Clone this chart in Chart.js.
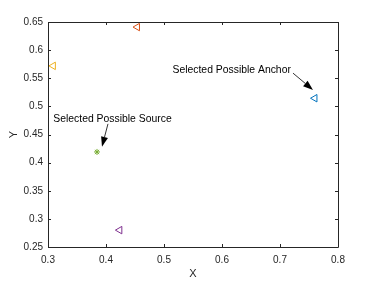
<!DOCTYPE html>
<html>
<head>
<meta charset="utf-8">
<script src="https://cdn.jsdelivr.net/npm/chart.js@4/dist/chart.umd.min.js"></script>
<style>
html,body{margin:0;padding:0;background:#fff;}
#wrap{width:374px;height:281px;position:relative;}
</style>
</head>
<body>
<div id="wrap"><canvas id="c" width="374" height="281"></canvas></div>
<script>
// ---- data ----
const seriesNames = ['Orange', 'Yellow', 'Purple', 'Blue', 'Source'];
const seriesX = [0.454, 0.309, 0.4236, 0.7600, 0.3845];
const seriesY = [0.641, 0.572, 0.280, 0.5145, 0.419];
const seriesColors = ['#D95319', '#EDB120', '#7E2F8E', '#0072BD', '#77AC30'];
const seriesMarkers = ['triangle', 'triangle', 'triangle', 'triangle', 'star'];

const xTicks = [0.3, 0.4, 0.5, 0.6, 0.7, 0.8];
const xTickLabels = ['0.3', '0.4', '0.5', '0.6', '0.7', '0.8'];
const yTicks = [0.25, 0.3, 0.35, 0.4, 0.45, 0.5, 0.55, 0.6, 0.65];
const yTickLabels = ['0.25', '0.3', '0.35', '0.4', '0.45', '0.5', '0.55', '0.6', '0.65'];

const annTexts = ['Selected Possible Source', 'Selected Possible Anchor'];
const annTextX = [0.4112, 0.6167];
const annTextY = [0.4771, 0.5637];
const arrowFromX = [0.4034, 0.7224];
const arrowFromY = [0.4689, 0.5591];
const arrowToX = [0.3931, 0.7569];
const arrowToY = [0.4283, 0.5293];

const AX = '#262626';
const FONT = "'Liberation Sans', Arial, Helvetica, sans-serif";

const datasets = seriesNames.map((n, i) => ({
  label: n,
  data: [{x: seriesX[i], y: seriesY[i]}],
  pointStyle: seriesMarkers[i],
  rotation: seriesMarkers[i] === 'triangle' ? -90 : 0,
  pointRadius: seriesMarkers[i] === 'triangle' ? 4.3 : 3,
  borderColor: seriesColors[i],
  backgroundColor: 'rgba(0,0,0,0)',
  pointBorderWidth: 1,
  borderWidth: 1
}));

const boxPlugin = {
  id: 'boxTicks',
  afterDatasetsDraw(chart) {
    const ctx = chart.ctx;
    const a = chart.chartArea;
    const xs = chart.scales.x, ys = chart.scales.y;
    ctx.save();
    ctx.strokeStyle = AX;
    ctx.lineWidth = 1;
    ctx.beginPath();
    ctx.rect(Math.round(a.left) + 0.5, Math.round(a.top) + 0.5, Math.round(a.right - a.left), Math.round(a.bottom - a.top));
    ctx.stroke();
    const tl = 3;
    ctx.beginPath();
    xTicks.forEach(v => {
      const px = Math.round(xs.getPixelForValue(v)) + 0.5;
      ctx.moveTo(px, a.bottom); ctx.lineTo(px, a.bottom - tl);
      ctx.moveTo(px, a.top); ctx.lineTo(px, a.top + tl);
    });
    yTicks.forEach(v => {
      const py = Math.round(ys.getPixelForValue(v)) + 0.5;
      ctx.moveTo(a.left, py); ctx.lineTo(a.left + tl, py);
      ctx.moveTo(a.right, py); ctx.lineTo(a.right - tl, py);
    });
    ctx.stroke();

    // annotations
    ctx.font = '10.4px ' + FONT;
    ctx.textAlign = 'center';
    ctx.textBaseline = 'middle';
    annTexts.forEach((t, i) => {
      ctx.fillStyle = '#000';
      ctx.fillText(t, xs.getPixelForValue(annTextX[i]), ys.getPixelForValue(annTextY[i]));
      const x1 = xs.getPixelForValue(arrowFromX[i]), y1 = ys.getPixelForValue(arrowFromY[i]);
      const x2 = xs.getPixelForValue(arrowToX[i]), y2 = ys.getPixelForValue(arrowToY[i]);
      const ang = Math.atan2(y2 - y1, x2 - x1);
      const hl = 10, hw = 3.5;
      const bx = x2 - hl * Math.cos(ang), by = y2 - hl * Math.sin(ang);
      ctx.strokeStyle = '#000';
      ctx.lineWidth = 0.8;
      ctx.beginPath();
      ctx.moveTo(x1, y1); ctx.lineTo(bx, by);
      ctx.stroke();
      ctx.beginPath();
      ctx.moveTo(x2, y2);
      ctx.lineTo(bx + hw * Math.sin(ang), by - hw * Math.cos(ang));
      ctx.lineTo(bx - hw * Math.sin(ang), by + hw * Math.cos(ang));
      ctx.closePath();
      ctx.fill();
    });
    ctx.restore();
  }
};

new Chart(document.getElementById('c'), {
  type: 'scatter',
  data: { datasets },
  options: {
    responsive: false,
    animation: false,
    devicePixelRatio: 1,
    layout: { padding: { left: 7, top: 22, right: 36, bottom: 0 } },
    plugins: { legend: { display: false }, tooltip: { enabled: false } },
    scales: {
      x: {
        type: 'linear', min: 0.3, max: 0.8,
        afterBuildTicks: s => { s.ticks = xTicks.map(v => ({value: v})); },
        afterFit: s => { s.height = 34; },
        grid: { display: false, drawTicks: false },
        border: { display: false },
        ticks: {
          color: AX, font: { family: FONT, size: 10 }, padding: 7, maxRotation: 0,
          callback: (v) => { const k = xTicks.findIndex(t => Math.abs(t - v) < 1e-9); return k >= 0 ? xTickLabels[k] : ''; }
        },
        title: { display: true, text: 'X', color: AX, font: { family: FONT, size: 11 }, padding: { top: 2, bottom: 0 } }
      },
      y: {
        type: 'linear', min: 0.25, max: 0.65,
        afterBuildTicks: s => { s.ticks = yTicks.map(v => ({value: v})); },
        afterFit: s => { s.width = 41; },
        grid: { display: false, drawTicks: false },
        border: { display: false },
        ticks: {
          color: AX, font: { family: FONT, size: 10 }, padding: 5,
          callback: (v) => { const k = yTicks.findIndex(t => Math.abs(t - v) < 1e-9); return k >= 0 ? yTickLabels[k] : ''; }
        },
        title: { display: true, text: 'Y', color: AX, font: { family: FONT, size: 11 }, padding: { top: 0, bottom: 0 } }
      }
    }
  },
  plugins: [boxPlugin]
});
</script>
</body>
</html>
